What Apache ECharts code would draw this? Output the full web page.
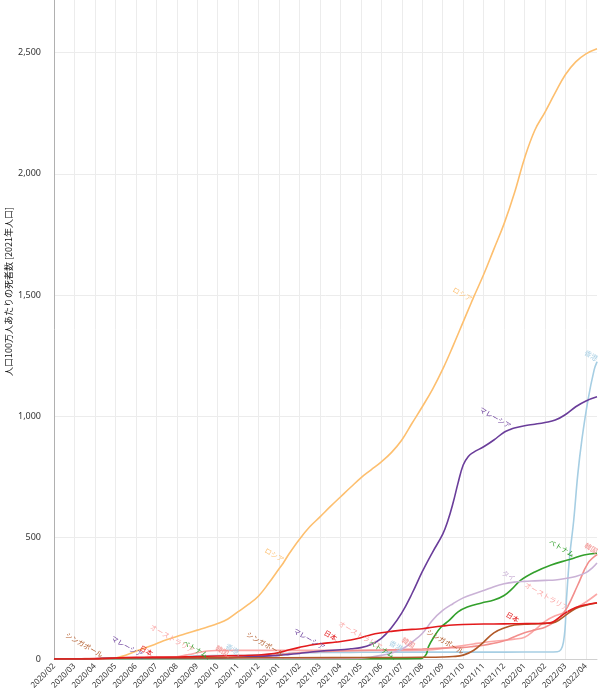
<!DOCTYPE html>
<html>
<head>
<meta charset="utf-8">
<script src="https://cdn.jsdelivr.net/npm/echarts@6/dist/echarts.min.js"></script>
<style>
html,body{margin:0;padding:0;background:#fff;}
#chart{width:600px;height:696px;}
</style>
</head>
<body>
<div id="chart"></div>
<script>
// x values are month indices counted from 2020/02 (0 = 2020/02/01)
const monthLabels = ['2020/02','2020/03','2020/04','2020/05','2020/06','2020/07','2020/08','2020/09','2020/10','2020/11','2020/12',
  '2021/01','2021/02','2021/03','2021/04','2021/05','2021/06','2021/07','2021/08','2021/09','2021/10','2021/11','2021/12',
  '2022/01','2022/02','2022/03','2022/04'];
const yTicks = [0, 500, 1000, 1500, 2000, 2500];

const hongkong = [[0,0],[1,0.3],[2,0.5],[4,0.5],[5,0.9],[5.5,2],[6,5],[6.5,10],[7,13],[7.5,13.6],[8,14],[9,14.2],[9.5,15],[10,16],[10.5,19],[11,21.5],[11.5,24],[12,25.5],[13,26.5],[14,27],[15,27.8],[17,28.3],[19,28.5],[22,28.5],[24,29],[24.6,30],[24.9,70],[25.05,250],[25.2,420],[25.4,570],[25.6,760],[25.8,903],[26.1,1068],[26.4,1192],[26.54,1225]];
const vietnam = [[0,0],[3,0.3],[7.5,0.4],[12,0.4],[16.6,0.5],[17.8,1],[18,3],[18.2,20],[18.3,50],[18.6,95],[18.9,130],[19.3,158],[19.75,194],[20.2,214],[20.9,231],[21.5,243],[22,262],[22.4,290],[22.8,324],[23.5,359],[24.3,388],[25.1,408],[25.4,415],[25.9,429],[26.54,436]];
const australia = [[0,0],[1.5,0.1],[2,0.8],[2.5,2.5],[3,3.6],[4,4],[5,4.1],[5.5,6],[6,9],[6.5,17],[6.8,22],[7,26],[7.5,33],[8,35],[9,35.5],[12,35.5],[16,35.5],[17.5,35.6],[18,36],[18.5,38],[19,43],[19.5,50],[20,56],[20.5,62],[21,68],[21.5,73],[22,77],[22.5,82],[23,90],[23.5,120],[24,155],[24.5,178],[25.1,195],[25.5,210],[26,235],[26.54,268]];
const korea = [[0,0],[1,0.3],[1.5,1.5],[2,3],[3,4.5],[4,5.3],[5,5.5],[6,5.8],[7,6.2],[8,7.3],[8.5,7.8],[9,8.3],[10,10],[10.5,13],[11,18],[11.5,22],[12,26],[13,31],[14,33],[15,35],[16,37],[17,39],[17.6,40],[18,41],[19,45],[20,48],[20.5,52],[21,57],[21.5,65],[22,75],[22.5,92],[23,108],[23.5,120],[24,131],[24.5,155],[24.8,180],[25.1,215],[25.6,305],[26.1,395],[26.54,430]];
const japan = [[0,0],[1,0.1],[2,0.5],[2.5,2],[3,4],[3.5,6],[4,7],[4.8,7.7],[6,8.2],[6.5,9],[7,10.2],[8,12.3],[9,14],[10,16.5],[10.5,20],[11,27],[11.5,38],[12,48],[12.5,57],[13,63],[13.8,70],[14.5,78],[15,88],[15.5,100],[16,108],[16.5,114],[17,119],[17.5,122],[18,125],[18.5,131],[19,136],[19.5,140],[20,142],[21,144],[22,145],[22.7,145.5],[23.5,146.5],[24,147],[24.3,150],[24.6,165],[25,190],[25.5,212],[26,224],[26.54,232]];
const russia = [[0,0],[2,0.1],[2.35,0.5],[2.5,1],[3,4],[3.5,15],[4,32],[4.5,47],[5,63],[5.5,79],[6,93],[6.5,106],[7,119],[7.5,132],[8,146],[8.5,165],[9,195],[9.5,225],[10,260],[10.5,313],[11,372],[11.2,395],[11.5,435],[12,494],[12.5,545],[13,586],[13.5,628],[14,668],[14.5,708],[15,747],[15.5,780],[16,813],[16.5,852],[17,903],[17.5,972],[18,1040],[18.5,1112],[19,1195],[19.5,1290],[20,1390],[20.4,1470],[20.5,1490],[21,1585],[21.5,1690],[22,1795],[22.5,1920],[23,2065],[23.5,2180],[24,2255],[24.5,2335],[25,2410],[25.5,2462],[26,2495],[26.54,2516]];
const thailand = [[0,0],[1,0.1],[2,0.5],[3,0.8],[8,0.9],[12,1.2],[14,1.5],[14.5,2],[15,3],[15.5,8],[16,15],[16.5,25],[17,40],[17.5,70],[18,105],[18.5,160],[19,200],[19.5,228],[20,252],[20.5,268],[21,282],[21.5,298],[22,310],[22.5,317],[23,320],[23.5,322],[24,324],[24.5,326],[25,332],[25.5,340],[26,356],[26.3,375],[26.54,396]];
const malaysia = [[0,0],[1,0],[2,1],[2.5,2.5],[3,3],[4.3,3.3],[5,3.5],[7,4],[8,4.5],[8.5,5],[9,7],[9.5,9],[10,11],[10.5,13],[11,15],[11.5,19],[12,23],[12.5,28],[13.2,34],[14,38],[14.5,42],[15,47],[15.5,60],[16,85],[16.5,130],[17,190],[17.5,270],[18,360],[18.5,440],[19,515],[19.25,570],[19.5,642],[19.75,726],[20,800],[20.25,835],[20.5,852],[21,875],[21.5,903],[22,935],[22.3,946],[22.5,952],[23,962],[23.5,968],[24,975],[24.5,985],[25,1008],[25.5,1040],[26,1064],[26.54,1081]];
const singapore = [[0,0],[1.5,0.5],[2.35,1.8],[2.5,2],[3,3],[4,4],[5,4.5],[10,5],[11.2,5.2],[16,6],[18,7],[19,8],[19.5,10],[20,16],[20.5,35],[21,70],[21.5,108],[22,128],[22.5,140],[23,143],[23.5,145],[24,147],[24.5,152],[25,180],[25.5,208],[26,222],[26.54,231]];

const seriesDefs = [
  {name:'香港', data:hongkong, color:'#a6cee3', labelAt:[8.8,17.8,26.54]},
  {name:'ベトナム', data:vietnam, color:'#33a02c', labelAt:[7.5,16.6,25.4]},
  {name:'オーストラリア', data:australia, color:'#fba8a7', labelAt:[6.8,16.0,25.1]},
  {name:'韓国', data:korea, color:'#f28e8c', labelAt:[8.5,17.6,26.54]},
  {name:'タイ', data:thailand, color:'#cab2d6', labelAt:[22.5]},
  {name:'ロシア', data:russia, color:'#fdbf6f', labelAt:[11.2,20.4]},
  {name:'マレーシア', data:malaysia, color:'#6a3d9a', labelAt:[4.3,13.2,22.3]},
  {name:'シンガポール', data:singapore, color:'#b15928', labelAt:[2.35,11.2,20.0]},
  {name:'日本', data:japan, color:'#e31a1c', labelAt:[4.8,13.8,22.7]}
];

function nearestIndex(pts, x) {
  let best = 0, bd = Infinity;
  pts.forEach((p, i) => { const d = Math.abs(p[0] - x); if (d < bd) { bd = d; best = i; } });
  return best;
}

const series = seriesDefs.map(def => {
  const labelIdx = def.labelAt.map(x => nearestIndex(def.data, x));
  return {
    name: def.name,
    type: 'line',
    smooth: 0.4,
    symbol: 'none',
    showSymbol: true,
    lineStyle: {width: 1.6, color: def.color},
    itemStyle: {color: def.color},
    label: {show: false},
    data: def.data.map((p, i) => labelIdx.includes(i) ? {
      value: p,
      symbol: 'circle',
      symbolSize: 1,
      label: {
        show: true,
        formatter: def.name,
        position: 'left',
        distance: 1,
        align: 'right',
        verticalAlign: 'bottom',
        rotate: -30,
        fontSize: 7,
        color: def.color,
        fontFamily: 'Noto Sans CJK JP'
      }
    } : p)
  };
});

const chart = echarts.init(document.getElementById('chart'), null, {renderer: 'canvas'});
chart.setOption({
  animation: false,
  backgroundColor: '#fff',
  grid: {left: 54, right: 3, top: 0, bottom: 37, containLabel: false, outerBoundsMode: 'none'},
  xAxis: {
    type: 'value',
    min: 0,
    max: 26.54,
    interval: 1,
    axisLine: {show: true, lineStyle: {color: '#d0d0d0'}},
    axisTick: {show: false},
    splitLine: {show: true, showMaxLine: false, lineStyle: {color: '#ececec'}},
    axisLabel: {
      rotate: 45,
      margin: 6,
      fontSize: 8,
      color: '#333',
      fontFamily: 'Noto Sans, sans-serif',
      showMaxLabel: false,
      formatter: v => Number.isInteger(v) && monthLabels[v] ? monthLabels[v] : ''
    }
  },
  yAxis: {
    type: 'value',
    min: 0,
    max: 2717,
    interval: 500,
    name: '人口100万人あたりの死者数 [2021年人口]',
    nameLocation: 'middle',
    nameGap: 41,
    nameMoveOverlap: false,
    nameTextStyle: {fontSize: 9, color: '#111', fontFamily: 'Noto Sans CJK JP', padding: [0, 0, 0, 76]},
    axisLine: {show: true, lineStyle: {color: '#b0b0b0'}},
    axisTick: {show: false},
    splitLine: {show: true, showMaxLine: false, lineStyle: {color: '#ececec'}},
    axisLabel: {
      margin: 13,
      fontSize: 9,
      color: '#333',
      fontFamily: 'Noto Sans, sans-serif',
      showMaxLabel: false,
      formatter: v => yTicks.includes(v) ? v.toLocaleString('en-US') : ''
    }
  },
  series: series
});
</script>
</body>
</html>
